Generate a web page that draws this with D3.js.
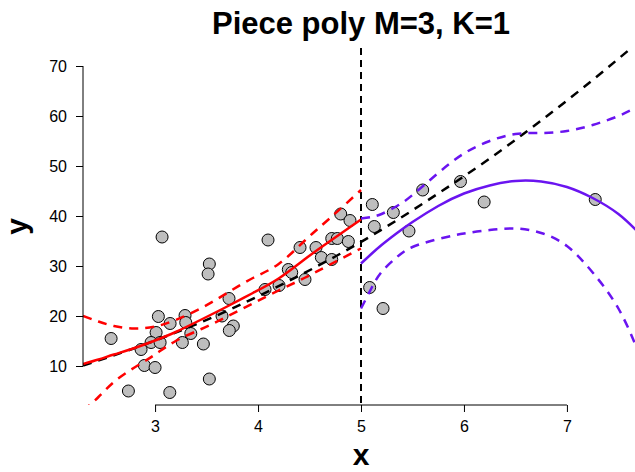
<!DOCTYPE html>
<html>
<head>
<meta charset="utf-8">
<script src="https://cdn.jsdelivr.net/npm/d3@7"></script>
<style>
  html, body { margin: 0; padding: 0; background: #fff; }
  svg { display: block; font-family: "Liberation Sans", Arial, Helvetica, sans-serif; }
</style>
</head>
<body>
<svg id="chart" width="635" height="472"></svg>
<script>
// Observations
const obsX = [2.573, 3.032, 3.146, 3.291, 3.298, 3.010, 2.961, 3.049, 2.864, 3.347,
              3.265, 3.469, 2.896, 3.000, 2.741, 3.143, 3.068, 3.527, 3.515, 3.718,
              3.650, 3.760, 3.721, 3.527, 4.068, 4.204, 4.294, 4.327, 4.097, 4.408,
              4.563, 4.615, 4.716, 4.456, 4.716, 4.770, 4.877, 4.803, 4.893,
              5.110, 5.129, 5.314, 5.599, 5.466, 5.966, 6.196, 5.084, 5.214, 7.275];
const obsY = [15.5, 19.9, 18.5, 20.1, 18.7, 16.7, 14.7, 14.7, 13.3, 16.5,
              14.7, 14.4, 10.1, 9.7, 5.0, 4.7, 35.8, 30.4, 28.4, 23.5,
              20.0, 18.0, 17.1, 7.4, 25.3, 26.1, 29.3, 28.7, 35.2, 33.7,
              33.7, 31.7, 31.3, 27.3, 35.5, 35.5, 34.9, 40.4, 39.1,
              42.3, 37.9, 40.7, 45.2, 37.0, 46.9, 42.8, 25.7, 21.5, 43.3];

// True regression function
const trueX = [2.3, 2.75, 3.25, 3.75, 4.25, 4.75, 5.25, 5.75, 6.25, 6.75, 7.25, 7.7];
const trueY = [10.1, 13.2, 17.1, 21.5, 26.5, 31.9, 37.9, 44.5, 51.5, 59.1, 67.2, 74.9];

// Piece 1 (x < 5): cubic fit with confidence band
const leftX     = [2.3, 2.45, 2.6, 2.8, 3.0, 3.2, 3.45, 3.7, 3.95, 4.2, 4.45, 4.7, 5.0];
const leftFit   = [10.4, 11.3, 12.3, 13.6, 15.1, 16.8, 19.3, 21.9, 24.6, 27.5, 31.3, 35.0, 39.3];
const leftUpper = [20.0, 18.9, 18.0, 17.5, 17.9, 19.2, 21.6, 24.6, 27.6, 30.4, 35.0, 39.6, 45.2];
const leftLower = [1.0, 3.8, 6.8, 9.7, 12.3, 15.0, 17.4, 19.9, 22.5, 25.1, 27.6, 30.3, 33.5];

// Piece 2 (x >= 5): cubic fit with confidence band
const rightX     = [5.0, 5.1, 5.2, 5.35, 5.5, 5.75, 6.0, 6.25, 6.5, 6.75, 7.0, 7.25, 7.5, 7.7];
const rightFit   = [30.5, 32.4, 34.2, 36.6, 38.8, 42.0, 44.5, 46.1, 47.0, 46.9, 45.8, 43.6, 40.4, 36.6];
const rightUpper = [39.5, 39.8, 40.4, 42.0, 44.2, 48.6, 52.5, 55.0, 56.4, 56.6, 57.0, 58.2, 60.0, 62.0];
const rightLower = [21.5, 25.5, 28.8, 31.8, 33.8, 35.4, 36.5, 37.2, 37.5, 36.6, 34.0, 28.7, 21.5, 12.5];

const knot = 5;
const xTicks = [3, 4, 5, 6, 7];
const yTicks = [10, 20, 30, 40, 50, 60, 70];
const titleText = "Piece poly M=3, K=1";

const RED = "#ff0000";
const PURPLE = "#6a14f0";

const svg = d3.select("#chart");
const plot = { left: 83, top: 48, right: 639, bottom: 405 };

const x = d3.scaleLinear().domain([2.30, 7.70]).range([plot.left, plot.right]);
const y = d3.scaleLinear().domain([2.2, 73.6]).range([plot.bottom, plot.top]);

svg.append("defs").append("clipPath").attr("id", "plotClip")
  .append("rect")
  .attr("x", plot.left).attr("y", plot.top)
  .attr("width", plot.right - plot.left).attr("height", plot.bottom - plot.top);

const g = svg.append("g").attr("clip-path", "url(#plotClip)");

// Points
g.selectAll("circle.obs")
  .data(obsX.map((v, i) => [v, obsY[i]]))
  .join("circle")
  .attr("class", "obs")
  .attr("cx", d => x(d[0]))
  .attr("cy", d => y(d[1]))
  .attr("r", 6)
  .attr("fill", "#bebebe")
  .attr("stroke", "#000")
  .attr("stroke-width", 1);

const zip = (xs, ys) => xs.map((v, i) => [v, ys[i]]);

function drawLine(xs, ys, color, dashed, width) {
  g.append("path")
    .datum(zip(xs, ys))
    .attr("d", d3.line().x(d => x(d[0])).y(d => y(d[1])).curve(d3.curveNatural))
    .attr("fill", "none")
    .attr("stroke", color)
    .attr("stroke-width", width)
    .attr("stroke-dasharray", dashed ? "9,7" : null);
}

// Knot
g.append("line")
  .attr("x1", x(knot)).attr("x2", x(knot))
  .attr("y1", plot.top).attr("y2", plot.bottom)
  .attr("stroke", "#000").attr("stroke-width", 2)
  .attr("stroke-dasharray", "7,5");

drawLine(trueX, trueY, "#000", true, 2.5);
drawLine(leftX, leftFit, RED, false, 2.5);
drawLine(leftX, leftUpper, RED, true, 2.5);
drawLine(leftX, leftLower, RED, true, 2.5);
drawLine(rightX, rightFit, PURPLE, false, 2.5);
drawLine(rightX, rightUpper, PURPLE, true, 2.5);
drawLine(rightX, rightLower, PURPLE, true, 2.5);

// Axes (drawn between first and last tick)
const xAxis = svg.append("g")
  .attr("transform", `translate(0,${plot.bottom})`)
  .call(d3.axisBottom(x).tickValues(xTicks).tickSize(7).tickSizeOuter(0).tickPadding(9)
        .tickFormat(d3.format("d")));
xAxis.select(".domain").remove();
xAxis.append("line")
  .attr("x1", x(xTicks[0])).attr("x2", x(xTicks[xTicks.length - 1]))
  .attr("stroke", "#000");
xAxis.selectAll("text").attr("font-size", 16).attr("fill", "#000")
  .attr("font-family", "Liberation Sans, Arial, sans-serif");

const yAxis = svg.append("g")
  .attr("transform", `translate(${plot.left},0)`)
  .call(d3.axisLeft(y).tickValues(yTicks).tickSize(7).tickSizeOuter(0).tickPadding(9)
        .tickFormat(d3.format("d")));
yAxis.select(".domain").remove();
yAxis.append("line")
  .attr("y1", y(yTicks[0])).attr("y2", y(yTicks[yTicks.length - 1]))
  .attr("stroke", "#000");
yAxis.selectAll("text").attr("font-size", 16).attr("fill", "#000")
  .attr("font-family", "Liberation Sans, Arial, sans-serif");

// Title and axis titles
svg.append("text")
  .attr("x", (plot.left + plot.right) / 2).attr("y", 34)
  .attr("text-anchor", "middle")
  .attr("font-size", 31).attr("font-weight", "bold")
  .text(titleText);

svg.append("text")
  .attr("x", (plot.left + plot.right) / 2).attr("y", 465)
  .attr("text-anchor", "middle")
  .attr("font-size", 30).attr("font-weight", "bold")
  .text("x");

svg.append("text")
  .attr("transform", `translate(27,${(plot.top + plot.bottom) / 2}) rotate(-90)`)
  .attr("text-anchor", "middle")
  .attr("font-size", 30).attr("font-weight", "bold")
  .text("y");
</script>
</body>
</html>
